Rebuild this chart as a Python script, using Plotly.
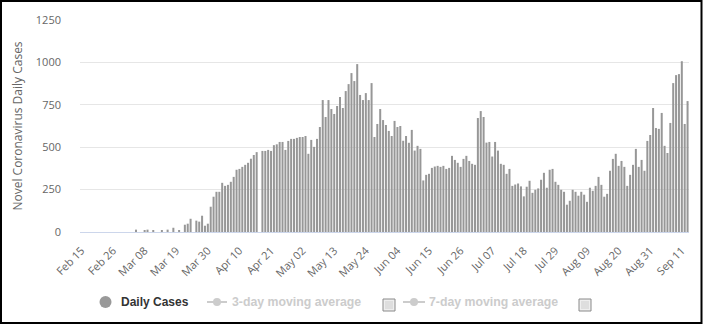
import pandas as pd
import plotly.graph_objects as go

# Daily new cases, one value per day starting 2020-02-15
start_date = "2020-02-15"
daily_cases = [
    0, 0, 0, 0, 0, 0, 0, 0, 0, 0,
    0, 0, 0, 0, 0, 0, 0, 0, 0, 14,
    0, 0, 8, 14, 0, 8, 0, 0, 8, 0,
    14, 0, 25, 0, 8, 0, 43, 49, 78, 0,
    67, 61, 96, 37, 49, 149, 208, 237, 237, 290,
    272, 278, 296, 325, 367, 372, 384, 396, 408, 432,
    454, 471, 0, 478, 478, 484, 478, 512, 517, 531,
    531, 484, 537, 549, 549, 555, 560, 560, 566, 461,
    543, 502, 549, 619, 778, 678, 778, 725, 696, 743,
    796, 731, 831, 872, 937, 890, 990, 808, 778, 819,
    778, 878, 560, 637, 725, 660, 631, 596, 566, 655,
    619, 625, 538, 566, 526, 602, 480, 508, 490, 304,
    337, 343, 378, 386, 390, 384, 390, 372, 378, 449,
    425, 408, 384, 431, 449, 419, 402, 396, 672, 713,
    678, 527, 531, 445, 531, 480, 402, 396, 343, 372,
    272, 280, 286, 269, 210, 267, 302, 231, 249, 257,
    308, 349, 261, 367, 372, 296, 278, 249, 237, 161,
    184, 249, 237, 214, 237, 220, 178, 261, 243, 272,
    325, 278, 208, 225, 361, 431, 461, 390, 419, 384,
    272, 337, 396, 490, 384, 425, 361, 537, 572, 731,
    613, 608, 702, 508, 466, 643, 878, 925, 931, 1007,
    637, 772,
]
y_ticks = [0, 250, 500, 750, 1000, 1250]
tick_step_days = 11
legend_items = ["Daily Cases", "3-day moving average", "7-day moving average"]
y_title = "Novel Coronavirus Daily Cases"

dates = pd.date_range(start_date, periods=len(daily_cases), freq="D")
tick_dates = list(dates[::tick_step_days])
tick_labels = [d.strftime("%b %d") for d in tick_dates]
half_day = pd.Timedelta(hours=12)

W, H = 706, 326
L, R, T, B = 80, 17, 20, 94
PW, PH = W - L - R, H - T - B


def px(x):
    return (x - L) / PW


def py(y):
    return (H - B - y) / PH


FONT = "Open Sans, Liberation Sans, sans-serif"
LEG_FONT = "Liberation Sans, Arial, sans-serif"

fig = go.Figure()
fig.add_trace(go.Bar(
    x=dates, y=daily_cases, name=legend_items[0],
    marker=dict(color="#979797", line=dict(width=0)),
    showlegend=False,
))

shapes = []
annotations = []

# outer frame
shapes.append(dict(type="rect", xref="paper", yref="paper",
                   x0=px(1), x1=px(701.5), y0=py(323), y1=py(1),
                   line=dict(color="#000000", width=2), fillcolor="rgba(0,0,0,0)",
                   layer="above"))

# legend row
ly = 302
shapes.append(dict(type="circle", xref="paper", yref="paper",
                   x0=px(99.5), x1=px(111.5), y0=py(ly + 6), y1=py(ly - 6),
                   fillcolor="#999999", line=dict(width=0)))
annotations.append(dict(xref="paper", yref="paper", x=px(118.5), y=py(ly),
                        xanchor="left", yanchor="middle", showarrow=False,
                        text="<b>%s</b>" % legend_items[0],
                        font=dict(family=LEG_FONT, size=12, color="#333333")))

for (lx0, lx1, bx) in [(207, 227, 383), (403, 425, 579)]:
    shapes.append(dict(type="line", xref="paper", yref="paper",
                       x0=px(lx0), x1=px(lx1), y0=py(ly), y1=py(ly),
                       line=dict(color="#cccccc", width=2)))
    cx = (lx0 + lx1) / 2
    shapes.append(dict(type="circle", xref="paper", yref="paper",
                       x0=px(cx - 4), x1=px(cx + 4), y0=py(ly + 4), y1=py(ly - 4),
                       fillcolor="#cccccc", line=dict(width=0)))
    # checkbox
    shapes.append(dict(type="rect", xref="paper", yref="paper",
                       x0=px(bx), x1=px(bx + 12), y0=py(ly + 9), y1=py(ly - 3),
                       fillcolor="#eeeeee", line=dict(color="#8a8a8a", width=1)))
    shapes.append(dict(type="rect", xref="paper", yref="paper",
                       x0=px(bx + 2), x1=px(bx + 10), y0=py(ly + 7), y1=py(ly - 1),
                       fillcolor="#dedede", line=dict(width=0)))

annotations.append(dict(xref="paper", yref="paper", x=px(229.5), y=py(ly),
                        xanchor="left", yanchor="middle", showarrow=False,
                        text="<b>%s</b>" % legend_items[1],
                        font=dict(family=LEG_FONT, size=12.3, color="#cccccc")))
annotations.append(dict(xref="paper", yref="paper", x=px(427), y=py(ly),
                        xanchor="left", yanchor="middle", showarrow=False,
                        text="<b>%s</b>" % legend_items[2],
                        font=dict(family=LEG_FONT, size=12.3, color="#cccccc")))

fig.update_layout(
    width=W, height=H,
    margin=dict(l=L, r=R, t=T, b=B, pad=0),
    paper_bgcolor="#ffffff", plot_bgcolor="#ffffff",
    bargap=0.3,
    showlegend=False,
    shapes=shapes,
    annotations=annotations,
    xaxis=dict(
        type="date",
        range=[dates[0] - half_day, dates[-1] + half_day],
        tickmode="array", tickvals=tick_dates, ticktext=tick_labels,
        tickangle=-45,
        tickfont=dict(family=FONT, size=11, color="#666666"),
        showgrid=False, zeroline=False,
        showline=True, linecolor="#ccd6eb", linewidth=1,
        ticks="", ticklabelstandoff=7,
        automargin=False,
    ),
    yaxis=dict(
        range=[0, 1250],
        tickmode="array", tickvals=y_ticks,
        tickfont=dict(family=FONT, size=11, color="#666666"),
        showgrid=True, gridcolor="#e6e6e6", gridwidth=1,
        zeroline=False, showline=False,
        ticks="", ticklabelstandoff=18,
        title=dict(text=y_title, standoff=10,
                   font=dict(family=FONT, size=12, color="#666666")),
        automargin=False,
    ),
)

fig.write_html("out.html")
